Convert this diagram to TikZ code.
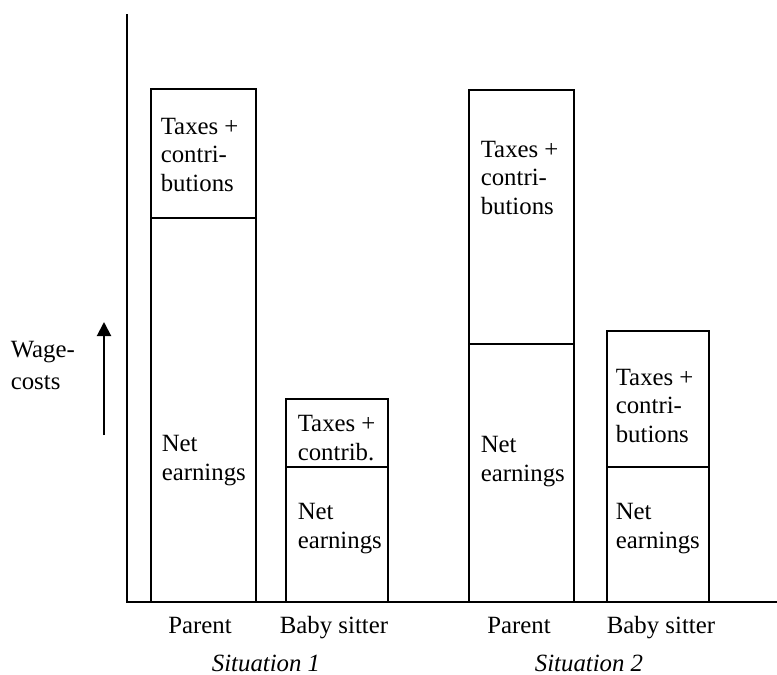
\documentclass[tikz,border=0pt]{standalone}
\usepackage{fontspec}
\setmainfont{Liberation Serif}
\usetikzlibrary{arrows.meta,positioning}

\begin{document}
\begin{tikzpicture}[x=0.5pt, y=-0.5pt, thick]

		\tikzstyle{seg}=[draw, line width=1pt]
		\tikzstyle{txt}=[align=left, anchor=base west, inner sep=0pt, font=\fontsize{12.4}{14.25}\selectfont]
		\tikzstyle{cat}=[anchor=base, inner sep=0pt, font=\fontsize{12.4}{14.25}\selectfont]
		\tikzstyle{sit}=[anchor=base, inner sep=0pt, font=\fontsize{12.4}{14.25}\selectfont\itshape]

		\useasboundingbox (0,0) rectangle (777,675);

		% Axes
		\coordinate (ytop) at (127,14);
		\coordinate (orig) at (127,602);
		\coordinate (xend) at (777,602);
		\draw[line width=1pt] (ytop) -- (orig) -- (xend);

		% Situation 1
		\draw[seg] (151,89) rectangle (256,602);
		\draw[seg] (151,218) -- (256,218);
		\draw[seg] (286,399) rectangle (388,602);
		\draw[seg] (286,467) -- (388,467);

		% Situation 2
		\draw[seg] (469,90) rectangle (574,602);
		\draw[seg] (469,344) -- (574,344);
		\draw[seg] (607,331) rectangle (709,602);
		\draw[seg] (607,467) -- (709,467);

		\node[txt] (p1tax) at (160,191) {Taxes +\\contri-\\butions};
		\node[txt] (p1net) at (161,480) {Net\\earnings};
		\node[txt] (b1tax) at (297,460) {Taxes +\\contrib.};
		\node[txt] (b1net) at (297,548) {Net\\earnings};
		\node[txt] (p2tax) at (480,214) {Taxes +\\contri-\\butions};
		\node[txt] (p2net) at (480,481) {Net\\earnings};
		\node[txt] (b2tax) at (615,442) {Taxes +\\contri-\\butions};
		\node[txt] (b2net) at (615,548) {Net\\earnings};

		\node[cat] (c1) at (200,633) {Parent};
		\node[cat] (c2) at (334,633) {Baby sitter};
		\node[cat] (c3) at (519,633) {Parent};
		\node[cat] (c4) at (661,633) {Baby sitter};
		\node[sit] (s1) at (266,671) {Situation 1};
		\node[sit] (s2) at (589,671) {Situation 2};

		% Wage costs
		\node[txt, font=\fontsize{12.4}{16}\selectfont] (wage) at (10,389) {Wage-\\costs};
		\coordinate (abot) at (104,435);
		\coordinate (atop) at (104,322);
		\draw[-{Triangle[length=7pt, width=7pt]}, line width=1pt] (abot) -- (atop);
\end{tikzpicture}
\end{document}
